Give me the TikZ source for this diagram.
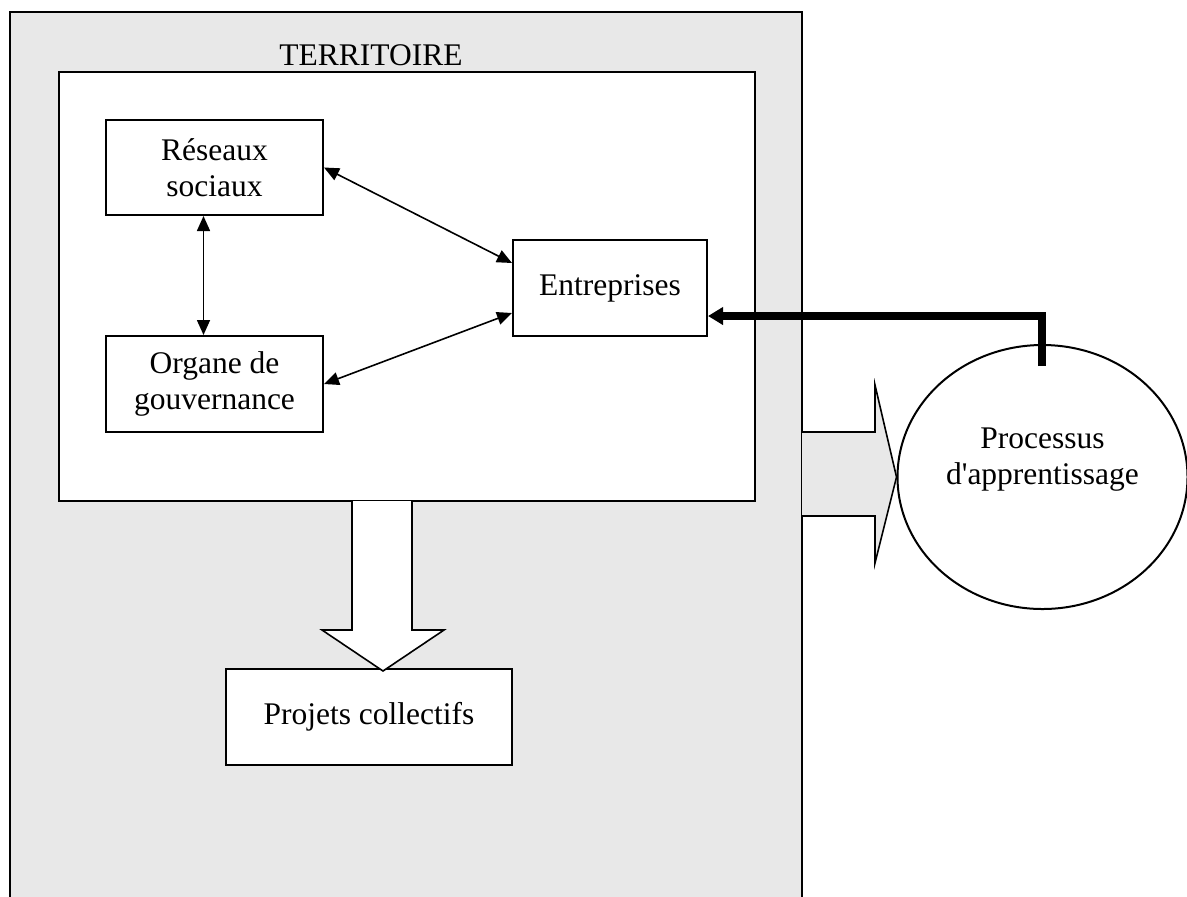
\documentclass[tikz,border=0pt]{standalone}
\usepackage{fontspec}
\setmainfont{Liberation Serif}
\usetikzlibrary{arrows.meta,shapes.geometric,calc}
\definecolor{terrgray}{HTML}{E8E8E8}
\tikzset{
  box/.style={draw, line width=1pt, fill=white, align=center, inner sep=0pt,
    font=\fontsize{15.75}{18}\selectfont},
  lbl/.style={align=center, inner sep=0pt, font=\fontsize{15.75}{18}\selectfont},
  link/.style={line width=0.8pt, {Triangle[length=7.5pt,width=6.5pt]}-{Triangle[length=7.5pt,width=6.5pt]}},
  thicklink/.style={line width=3.6pt, -{Triangle[length=7.5pt,width=8.5pt]}},
  bigarrow/.style={draw, line width=0.8pt, line join=miter}
}
\begin{document}
\begin{tikzpicture}[x=0.5pt,y=-0.5pt]
  \useasboundingbox (0,0) rectangle (1187,896);
  \clip (0,0) rectangle (1187,896);

  % territory frame and its inner area
  \filldraw[fill=terrgray, line width=1pt] (10,12) rectangle (802,910);
  \filldraw[fill=white, line width=1pt] (59,72) rectangle (755,501);
  \node[lbl] (terr) at (371,55) {TERRITOIRE};

  % actors
  \node[box, minimum width=108.5pt, minimum height=47.5pt] (res) at (214.5,167.5) {Réseaux\\sociaux};
  \node[box, minimum width=108.5pt, minimum height=48pt] (org) at (214.5,384) {Organe de\\gouvernance};
  \node[box, minimum width=97pt, minimum height=48pt] (ent) at (610,288) {Entreprises};
  \node[box, minimum width=143pt, minimum height=48pt] (proj) at (369,717) {Projets collectifs};
  \node[box, ellipse, minimum width=145pt, minimum height=132pt] (proc) at (1042.5,477) {};
  \node[lbl] (proclbl) at ($(proc.center)+(0,-17)$) {Processus\\d\textquotesingle apprentissage};

  % exchanges between actors
  \draw[link] (res.east) -- ($(ent.west)+(0,-25)$);
  \draw[link] ($(ent.west)+(0,25)$) -- (org.east);
  \draw[link] ($(res.south)+(-11,0)$) -- ($(org.north)+(-11,0)$);

  % feedback from learning to firms
  \coordinate (fbstart) at (1042,366);
  \draw[thicklink] (fbstart) |- ($(ent.east)+(0,28)$);

  % output towards collective projects
  \coordinate (dtip) at (383,671);
  \filldraw[bigarrow, fill=white] (352,501) -- (352,630) -- (322,630) -- (dtip)
    -- (444,630) -- (412,630) -- (412,501);

  % output towards the learning process
  \filldraw[bigarrow, fill=terrgray] (802,432) -- (875,432) -- (875,385) -- (proc.west)
    -- (875,563) -- (875,516) -- (802,516);
\end{tikzpicture}
\end{document}
